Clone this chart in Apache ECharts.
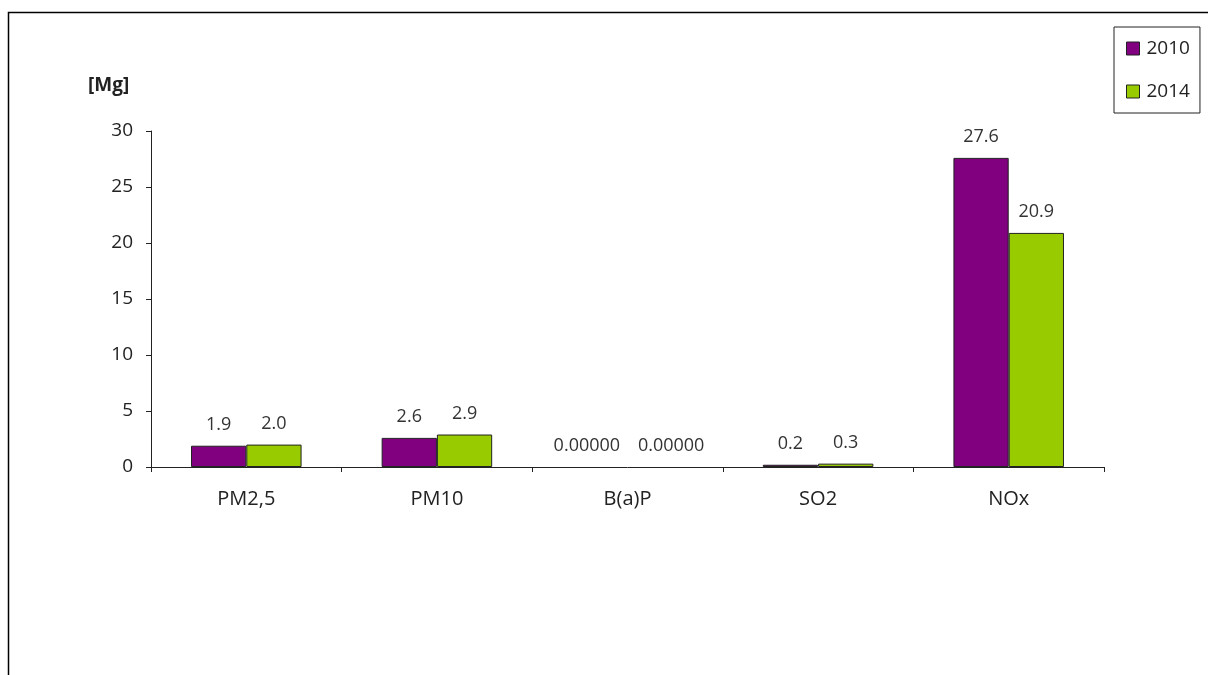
<!DOCTYPE html>
<html>
<head>
<meta charset="utf-8">
<script src="https://cdn.jsdelivr.net/npm/echarts@6/dist/echarts.min.js"></script>
<style>html,body{margin:0;padding:0;background:#fff;}#c{width:1208px;height:675px;}</style>
</head>
<body>
<div id="c"></div>
<script>
const categories = ['PM2,5', 'PM10', 'B(a)P', 'SO2', 'NOx'];
const values2010 = [1.9, 2.6, 0.000001, 0.2, 27.6];
const values2014 = [2.0, 2.9, 0.000001, 0.3, 20.9];
const labelDecimals = [1, 1, 5, 1, 1];
const seriesNames = ['2010', '2014'];
const yTicks = [0, 5, 10, 15, 20, 25, 30];

const FONT = '"Open Sans", sans-serif';
const chart = echarts.init(document.getElementById('c'), null, {renderer: 'canvas'});
const colors = ['#800080', '#99CC00'];
function mkSeries(name, data, color, idx) {
  return {
    name: name, type: 'bar',
    data: data.map((v, i) => {
      const item = {value: v};
      if (v < 0.001) item.itemStyle = {borderWidth: 0};
      // wide labels (many decimals) are pushed apart so they do not overlap, as in the source
      if (labelDecimals[i] > 2) item.label = {offset: [idx === 0 ? -13 : 16, 0]};
      return item;
    }),
    barGap: '0%', barCategoryGap: '42%',
    itemStyle: {color: color, borderColor: '#222', borderWidth: 1},
    label: {
      show: true, position: 'top', distance: 12,
      fontFamily: FONT, fontSize: 18, color: '#333',
      formatter: p => p.value.toFixed(labelDecimals[p.dataIndex])
    },
    animation: false
  };
}
chart.setOption({
  animation: false,
  backgroundColor: '#fff',
  grid: {left: 151, top: 131, right: 104, bottom: 208, containLabel: false},
  legend: {
    data: seriesNames, orient: 'vertical', left: 1114, top: 27,
    padding: [12, 10, 12, 12], itemGap: 24, itemWidth: 13, itemHeight: 13,
    icon: 'rect', borderColor: '#222', borderWidth: 1,
    textStyle: {fontFamily: FONT, fontSize: 19, color: '#222', padding: [0, 0, 0, 2]},
    itemStyle: {borderColor: '#222', borderWidth: 1}
  },
  xAxis: {
    type: 'category', data: categories,
    axisLine: {lineStyle: {color: '#222', width: 1}},
    axisTick: {show: true, length: 5, lineStyle: {color: '#222'}},
    axisLabel: {fontFamily: FONT, fontSize: 20, color: '#222', margin: 22}
  },
  yAxis: {
    type: 'value', min: yTicks[0], max: yTicks[yTicks.length - 1], interval: yTicks[1] - yTicks[0],
    axisLine: {show: true, lineStyle: {color: '#222', width: 1}},
    axisTick: {show: true, length: 5, lineStyle: {color: '#222'}},
    splitLine: {show: false},
    axisLabel: {fontFamily: FONT, fontSize: 19, color: '#222', margin: 18}
  },
  graphic: [
    {type: 'rect', shape: {x: 8.5, y: 12.5, width: 1400, height: 900}, style: {fill: 'none', stroke: '#000', lineWidth: 1.5}, silent: true},
    {type: 'text', left: 88, top: 76, style: {text: '[Mg]', font: 'bold 19px ' + FONT, fill: '#222'}}
  ],
  series: [
    mkSeries(seriesNames[0], values2010, colors[0], 0),
    mkSeries(seriesNames[1], values2014, colors[1], 1)
  ]
});
</script>
</body>
</html>
